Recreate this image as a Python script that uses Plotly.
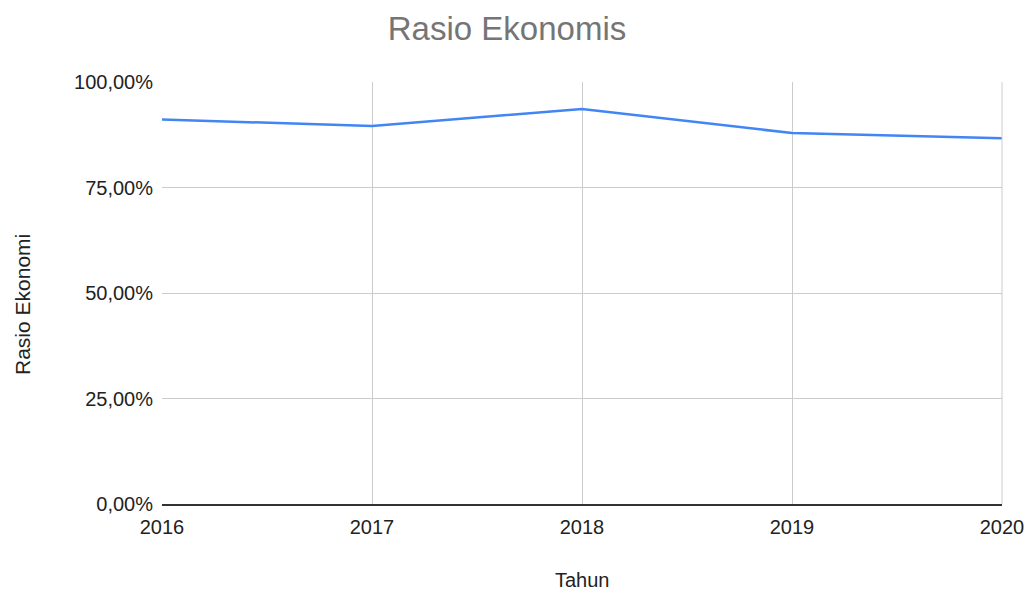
import plotly.graph_objects as go

years = ["2016", "2017", "2018", "2019", "2020"]
rasio = [0.911, 0.896, 0.936, 0.879, 0.867]
y_ticks = [0, 0.25, 0.5, 0.75, 1.0]

FONT = "Liberation Sans, Arial, sans-serif"

fig = go.Figure()
fig.add_trace(go.Scatter(
    x=years, y=rasio, mode="lines",
    line=dict(color="#4285F4", width=2.5),
    hoverinfo="x+y",
))

fig.update_layout(
    width=1030, height=594,
    margin=dict(l=162, r=28, t=82, b=90, autoexpand=False),
    paper_bgcolor="white", plot_bgcolor="white",
    separators=", ",
    font=dict(family=FONT, size=20, color="#222222"),
    title=dict(text="Rasio Ekonomis", x=507 / 1030, xanchor="center", y=1 - 28 / 594, yanchor="middle",
               font=dict(size=33, color="#757575", family=FONT)),
    showlegend=False,
)
fig.update_xaxes(
    type="category", range=[0, 4], automargin=False,
    showgrid=True, gridcolor="#cccccc", gridwidth=1,
    showline=True, linecolor="#333333", linewidth=1.5,
    ticks="", ticklabelstandoff=4, tickfont=dict(size=20, color="#222222"),
    mirror=False,
)
fig.update_yaxes(
    range=[0, 1.0], tickvals=y_ticks, tickformat=".2%", automargin=False,
    showgrid=True, gridcolor="#cccccc", gridwidth=1,
    zeroline=False, showline=False,
    ticks="", ticklabelstandoff=8,
    tickfont=dict(size=20, color="#222222"),
)
# axis titles
fig.add_annotation(text="Tahun", xref="paper", yref="paper", x=0.5, y=-76 / 422,
                   xanchor="center", yanchor="middle", showarrow=False,
                   font=dict(size=20, color="#222222", family=FONT))
fig.add_annotation(text="Rasio Ekonomi", xref="paper", yref="paper", x=(22 - 162) / 840,
                   y=(504 - 305) / 422, textangle=-90,
                   xanchor="center", yanchor="middle", showarrow=False,
                   font=dict(size=21, color="#222222", family=FONT))
# right border of plot area
fig.add_shape(type="line", xref="paper", yref="paper", x0=1, x1=1, y0=0, y1=1,
              line=dict(color="#cccccc", width=1))

fig.write_html("out.html")
